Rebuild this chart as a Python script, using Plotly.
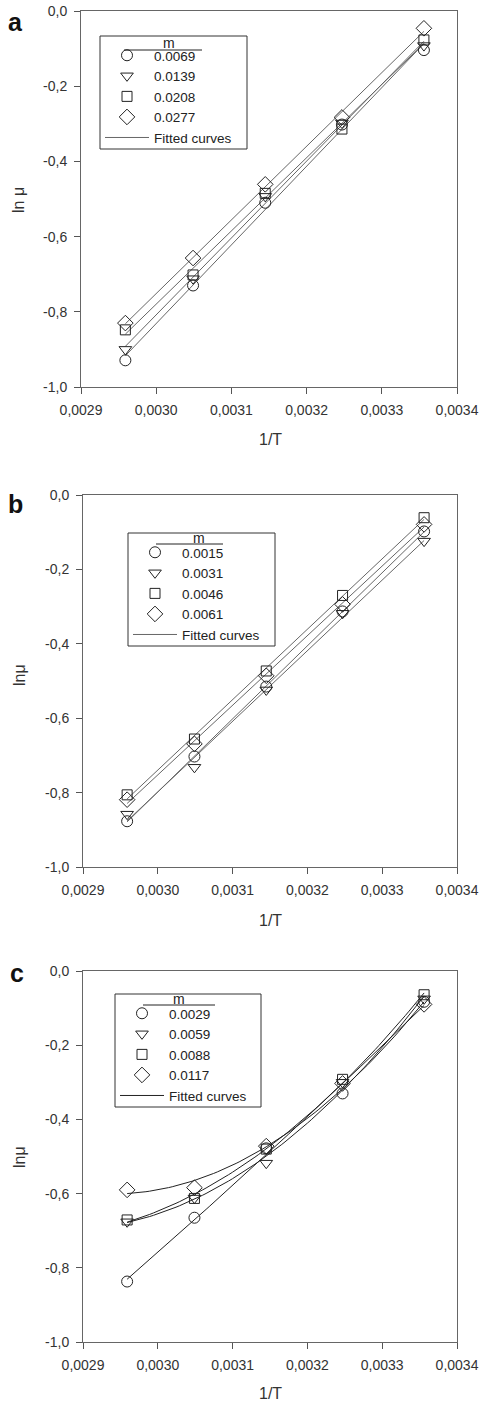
import numpy as np
import plotly.graph_objects as go

W, H = 486, 1404

# ---- data ----
inv_T = [0.002959, 0.003049, 0.003145, 0.003247, 0.003356]

labels_a = ["0.0069", "0.0139", "0.0208", "0.0277"]
a_0069 = [-0.929, -0.730, -0.510, -0.302, -0.104]
a_0139 = [-0.900, -0.712, -0.493, -0.298, -0.092]
a_0208 = [-0.848, -0.702, -0.485, -0.314, -0.077]
a_0277 = [-0.830, -0.657, -0.461, -0.283, -0.046]

labels_b = ["0.0015", "0.0031", "0.0046", "0.0061"]
b_0015 = [-0.877, -0.703, -0.515, -0.313, -0.098]
b_0031 = [-0.858, -0.732, -0.524, -0.318, -0.124]
b_0046 = [-0.806, -0.656, -0.473, -0.270, -0.061]
b_0061 = [-0.819, -0.669, -0.486, -0.294, -0.079]

labels_c = ["0.0029", "0.0059", "0.0088", "0.0117"]
c_0029 = [-0.837, -0.665, -0.478, -0.330, -0.083]
c_0059 = [-0.676, -0.612, -0.518, -0.300, -0.075]
c_0088 = [-0.671, -0.613, -0.480, -0.292, -0.064]
c_0117 = [-0.590, -0.584, -0.472, -0.303, -0.090]

x_ticks = [0.0029, 0.0030, 0.0031, 0.0032, 0.0033, 0.0034]
x_ticktext = ["0,0029", "0,0030", "0,0031", "0,0032", "0,0033", "0,0034"]
y_ticks = [0.0, -0.2, -0.4, -0.6, -0.8, -1.0]
y_ticktext = ["0,0", "-0,2", "-0,4", "-0,6", "-0,8", "-1,0"]

symbols = ["circle-open", "triangle-down-open", "square-open", "diamond-open"]
sizes = [11, 11, 10, 12]

FONT = "Liberation Sans, Arial, sans-serif"

panels = [
    dict(letter="a", labels=labels_a, series=[a_0069, a_0139, a_0208, a_0277], deg=1,
         box=(81, 11, 457, 387), ytitle="ln \u03bc", legend="legend",
         legbox=(100, 36, 247, 149), uline=(24, 102, 14), mpos=(69, 7),
         linecol="#666666", letpos=(15, 22), ytpos=(19, 200), xtpos=(270, 440)),
    dict(letter="b", labels=labels_b, series=[b_0015, b_0031, b_0046, b_0061], deg=1,
         box=(83, 495, 457, 867), ytitle="ln\u03bc", legend="legend2",
         legbox=(128, 533, 275, 646), uline=(28, 95, 11), mpos=(71, 5),
         linecol="#666666", letpos=(15, 504), ytpos=(19, 675), xtpos=(270, 920)),
    dict(letter="c", labels=labels_c, series=[c_0029, c_0059, c_0088, c_0117], deg=2,
         box=(83, 971, 457, 1342), ytitle="ln\u03bc", legend="legend3",
         legbox=(115, 994, 261, 1107), uline=(28, 100, 11), mpos=(64, 5),
         linecol="#222222", letpos=(17, 973), ytpos=(19, 1157), xtpos=(270, 1393)),
]

fig = go.Figure()
annotations = []
shapes = []
layout = {}

for i, p in enumerate(panels):
    sfx = "" if i == 0 else str(i + 1)
    xa, ya = "x" + sfx, "y" + sfx
    x0, y0, x1, y1 = p["box"]
    layout["xaxis" + sfx] = dict(
        domain=[x0 / W, x1 / W], range=[0.0029, 0.0034], anchor=ya,
        tickvals=x_ticks, ticktext=x_ticktext, ticks="outside", ticklen=6,
        tickcolor="#555", showline=True, linecolor="#666", linewidth=1, mirror=True,
        showgrid=False, zeroline=False, tickfont=dict(size=14, color="#333", family=FONT),
        ticklabelstandoff=4, automargin=False,
    )
    layout["yaxis" + sfx] = dict(
        domain=[1 - y1 / H, 1 - y0 / H], range=[-1.0, 0.0], anchor=xa,
        tickvals=y_ticks, ticktext=y_ticktext, ticks="outside", ticklen=6,
        tickcolor="#555", showline=True, linecolor="#666", linewidth=1, mirror=True,
        showgrid=False, zeroline=False, tickfont=dict(size=14, color="#333", family=FONT),
        ticklabelstandoff=4, automargin=False,
    )
    # fitted curves
    xf = np.linspace(inv_T[0], inv_T[-1], 80)
    for k, ys in enumerate(p["series"]):
        coef = np.polyfit(inv_T, ys, p["deg"])
        fig.add_trace(go.Scatter(
            x=xf, y=np.polyval(coef, xf), mode="lines", xaxis=xa, yaxis=ya,
            line=dict(color=p["linecol"], width=1),
            name="Fitted curves", showlegend=(k == 0), legend=p["legend"],
            legendrank=10,
        ))
    # markers
    for k, ys in enumerate(p["series"]):
        fig.add_trace(go.Scatter(
            x=inv_T, y=ys, mode="markers", xaxis=xa, yaxis=ya,
            marker=dict(symbol=symbols[k], size=sizes[k], color="#222",
                        line=dict(width=1, color="#222")),
            name=p["labels"][k], legend=p["legend"], legendrank=k + 1,
        ))
    bx0, by0, bx1, by1 = p["legbox"]
    layout[p["legend"]] = dict(
        x=bx0 / W, y=1 - (by0 + 4) / H, xanchor="left", yanchor="top",
        bgcolor="rgba(0,0,0,0)", borderwidth=0,
        font=dict(size=13.5, color="#222", family=FONT),
        tracegroupgap=0, itemwidth=44, traceorder="normal",
    )
    # legend frame
    shapes.append(dict(type="rect", xref="paper", yref="paper",
                       x0=bx0 / W, x1=bx1 / W, y0=1 - by1 / H, y1=1 - by0 / H,
                       line=dict(color="#333", width=1), fillcolor="rgba(0,0,0,0)"))
    # underline under "m"
    u0, u1, uy = p["uline"]
    shapes.append(dict(type="line", xref="paper", yref="paper",
                       x0=(bx0 + u0) / W, x1=(bx0 + u1) / W,
                       y0=1 - (by0 + uy) / H, y1=1 - (by0 + uy) / H,
                       line=dict(color="#222", width=1)))
    annotations.append(dict(text="m", xref="paper", yref="paper",
                            x=(bx0 + p["mpos"][0]) / W, y=1 - (by0 + p["mpos"][1]) / H,
                            showarrow=False, font=dict(size=14, color="#222", family=FONT),
                            xanchor="center", yanchor="middle"))
    # panel letter
    annotations.append(dict(text="<b>%s</b>" % p["letter"], xref="paper", yref="paper",
                            x=p["letpos"][0] / W, y=1 - p["letpos"][1] / H,
                            showarrow=False, font=dict(size=25, color="#111", family=FONT),
                            xanchor="center", yanchor="middle"))
    annotations.append(dict(text=p["ytitle"], xref="paper", yref="paper",
                            x=p["ytpos"][0] / W, y=1 - p["ytpos"][1] / H, textangle=-90,
                            showarrow=False, font=dict(size=16, color="#333", family=FONT),
                            xanchor="center", yanchor="middle"))
    annotations.append(dict(text="1/T", xref="paper", yref="paper",
                            x=p["xtpos"][0] / W, y=1 - p["xtpos"][1] / H,
                            showarrow=False, font=dict(size=16, color="#333", family=FONT),
                            xanchor="center", yanchor="middle"))

fig.update_layout(
    width=W, height=H, margin=dict(l=0, r=0, t=0, b=0, autoexpand=False),
    paper_bgcolor="white", plot_bgcolor="white",
    annotations=annotations, shapes=shapes, **layout,
)

fig.write_html("out.html")
